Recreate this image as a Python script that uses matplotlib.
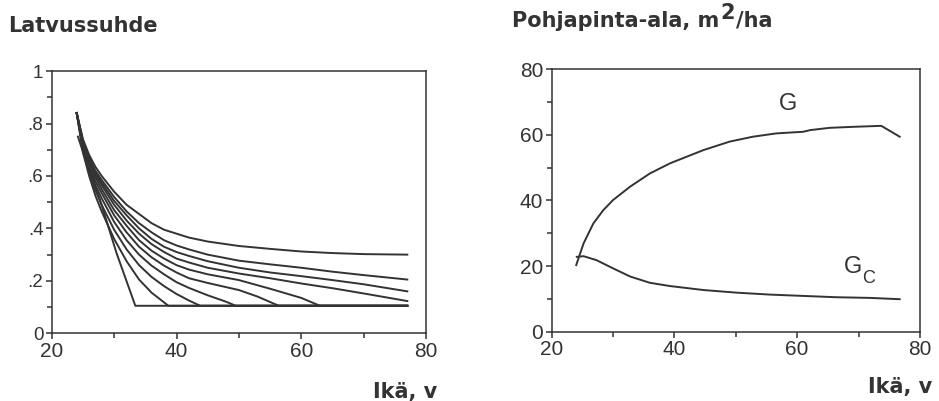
import matplotlib
matplotlib.use("Agg")
import matplotlib.pyplot as plt
from matplotlib.ticker import MultipleLocator

# --- data: crown ratio curves (left panel) ---
floor_y = 0.105
age_a = [24.2, 26.0, 27.75, 30.4, 33.4, 77]
crown_a = [0.75, 0.62, 0.508, 0.305, floor_y, floor_y]
age_b = [24, 25, 26, 27, 28, 30, 32, 34, 36, 38.7, 77]
crown_b = [0.84, 0.69, 0.60, 0.525, 0.465, 0.36, 0.275, 0.205, 0.155, floor_y, floor_y]
age_c = [24, 25, 26, 27, 28, 30, 32, 34, 36, 38, 40, 42, 43.8, 77]
crown_c = [0.84, 0.70, 0.615, 0.545, 0.49, 0.395, 0.32, 0.26, 0.215, 0.18, 0.15, 0.125, floor_y, floor_y]
age_d = [24, 25, 26, 27, 28, 30, 32, 34, 36, 38, 40, 42, 45, 48, 49.5, 77]
crown_d = [0.84, 0.71, 0.63, 0.565, 0.515, 0.425, 0.355, 0.30, 0.258, 0.225, 0.195, 0.173, 0.145, 0.12, floor_y, floor_y]
age_e = [24, 25, 26, 27, 28, 30, 32, 34, 36, 38, 40, 42, 45, 50, 53, 56.4, 77]
crown_e = [0.84, 0.715, 0.64, 0.58, 0.535, 0.45, 0.385, 0.33, 0.29, 0.258, 0.232, 0.21, 0.192, 0.165, 0.14, floor_y, floor_y]
age_f = [24, 25, 26, 27, 28, 30, 32, 34, 36, 38, 40, 42, 45, 50, 55, 60, 63, 77]
crown_f = [0.84, 0.72, 0.65, 0.595, 0.55, 0.47, 0.41, 0.355, 0.315, 0.285, 0.26, 0.243, 0.225, 0.203, 0.17, 0.135, floor_y, floor_y]

age_open = [24, 25, 26, 27, 28, 30, 32, 34, 36, 38, 40, 42, 45, 50, 55, 60, 65, 70, 77]
crown_g = [0.84, 0.725, 0.66, 0.605, 0.565, 0.49, 0.43, 0.38, 0.34, 0.31, 0.285, 0.27, 0.25, 0.228, 0.21, 0.19, 0.172, 0.152, 0.123]
crown_h = [0.84, 0.73, 0.665, 0.615, 0.575, 0.505, 0.45, 0.40, 0.36, 0.33, 0.31, 0.295, 0.275, 0.25, 0.232, 0.218, 0.203, 0.187, 0.16]
crown_i = [0.84, 0.735, 0.67, 0.62, 0.585, 0.52, 0.465, 0.42, 0.385, 0.355, 0.335, 0.32, 0.30, 0.277, 0.263, 0.25, 0.235, 0.222, 0.205]
crown_j = [0.84, 0.74, 0.68, 0.635, 0.60, 0.54, 0.49, 0.455, 0.42, 0.395, 0.38, 0.365, 0.35, 0.333, 0.322, 0.312, 0.306, 0.302, 0.30]

# --- data: basal area (right panel) ---
g_age = [24, 25.2, 26.8, 28.4, 30, 32.8, 36, 39.3, 42, 44.7, 49, 52.8, 56.6, 61, 62.1, 65.3, 69.1, 73.7, 76.7]
g_val = [20.3, 26.9, 33, 37, 40.1, 44.2, 48.2, 51.3, 53.3, 55.3, 57.9, 59.4, 60.4, 60.9, 61.4, 62.1, 62.4, 62.7, 59.4]
gc_age = [24.1, 25.2, 27.3, 30, 32.8, 36, 39.3, 44.7, 50.1, 55.6, 61, 66.4, 71.8, 76.7]
gc_val = [22.8, 23.0, 21.8, 19.3, 16.8, 14.9, 13.9, 12.7, 11.9, 11.3, 10.9, 10.5, 10.3, 9.9]

ink = "#333333"
plt.rcParams["font.family"] = ["Liberation Sans", "DejaVu Sans"]

fig = plt.figure(figsize=(9.39, 4.01), dpi=100)
ax1 = fig.add_axes([0.0551, 0.1688, 0.3986, 0.654])
ax2 = fig.add_axes([0.5875, 0.1728, 0.3922, 0.655])

closed = [(age_a, crown_a), (age_b, crown_b), (age_c, crown_c), (age_d, crown_d),
          (age_e, crown_e), (age_f, crown_f)]
for xs, ys in closed:
    ax1.plot(xs, ys, color=ink, lw=1.4)
for ys in [crown_g, crown_h, crown_i, crown_j]:
    ax1.plot(age_open, ys, color=ink, lw=1.4)

ax1.set_xlim(20, 80)
ax1.set_ylim(0, 1)
ax1.set_xticks([20, 40, 60, 80])
ax1.xaxis.set_minor_locator(MultipleLocator(10))
ax1.set_yticks([0, 0.2, 0.4, 0.6, 0.8, 1.0])
ax1.set_yticklabels(["0", ".2", ".4", ".6", ".8", "1"])
ax1.yaxis.set_minor_locator(MultipleLocator(0.1))

ax2.plot(g_age, g_val, color=ink, lw=1.4)
ax2.plot(gc_age, gc_val, color=ink, lw=1.4)
ax2.set_xlim(20, 80)
ax2.set_ylim(0, 80)
ax2.set_xticks([20, 40, 60, 80])
ax2.xaxis.set_minor_locator(MultipleLocator(10))
ax2.set_yticks([0, 20, 40, 60, 80])
ax2.yaxis.set_minor_locator(MultipleLocator(10))
ax2.text(58.5, 69.5, "G", fontsize=17, color=ink, ha="center", va="center")
ax2.text(69.1, 19.6, "G", fontsize=17, color=ink, ha="center", va="center")
ax2.text(71.6, 16.2, "C", fontsize=13, color=ink, ha="center", va="center")

for ax in (ax1, ax2):
    for sp in ax.spines.values():
        sp.set_color(ink)
        sp.set_linewidth(1.1)
    ax.tick_params(which="both", direction="out", color=ink, width=1.1, labelcolor=ink)
    ax.tick_params(which="major", length=4, pad=2)
    ax.tick_params(which="minor", length=3.5)
    ax.tick_params(axis="x", labelsize=15)
ax1.tick_params(axis="y", labelsize=13.5)
ax2.tick_params(axis="y", labelsize=15)

bold = dict(family="DejaVu Sans", fontweight="bold", fontsize=15, color=ink)
fig.text(8 / 939, 0.92, "Latvussuhde", ha="left", va="baseline", **bold)
t = fig.text(512 / 939, 0.933, "Pohjapinta-ala, m", ha="left", va="baseline", **bold)
fig.canvas.draw()
rend = fig.canvas.get_renderer()
bb = t.get_window_extent(rend)
t2 = fig.text(bb.x1 / fig.bbox.width + 0.001, 0.952, "2", ha="left", va="baseline", **bold)
bb2 = t2.get_window_extent(rend)
fig.text(bb2.x1 / fig.bbox.width + 0.001, 0.933, "/ha", ha="left", va="baseline", **bold)

fig.text(437 / 939, 0.0075, "Ikä, v", ha="right", va="baseline", **bold)
fig.text(932 / 939, 0.02, "Ikä, v", ha="right", va="baseline", **bold)

fig.savefig("out.png", dpi=100)
